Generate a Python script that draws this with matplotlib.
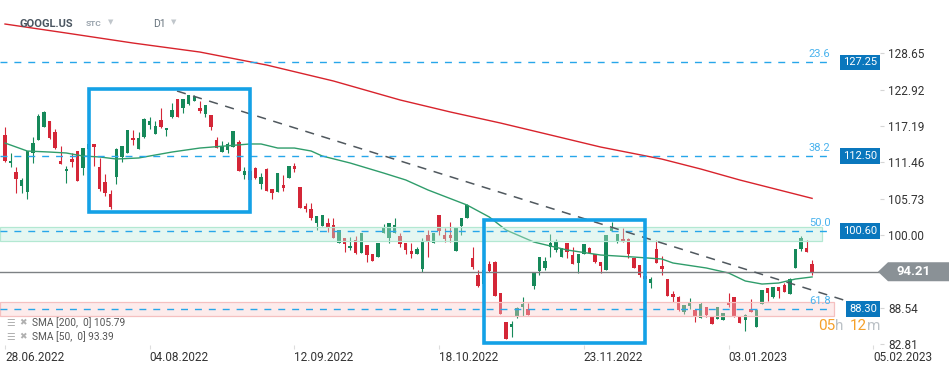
import matplotlib
matplotlib.use("Agg")
import matplotlib.pyplot as plt
import matplotlib.transforms as mtransforms
from matplotlib.colors import to_rgba
from matplotlib.patches import Rectangle, Polygon
from matplotlib.offsetbox import TextArea, HPacker, AnnotationBbox
import numpy as np

plt.rcParams['font.family'] = ['Roboto', 'DejaVu Sans']

# daily candles GOOGL.US, 28.06.2022 -> 25.01.2023
opens = [115.79, 111.37, 109.95, 107.74, 106.79, 112.95, 115.00, 117.05, 117.99, 116.26,
         111.68, 110.11, 112.00, 113.26, 110.58, 113.50, 114.37, 110.74, 108.37, 106.48,
         109.16, 112.32, 112.95, 115.31, 113.58, 115.47, 117.37, 115.95, 118.15, 116.58,
         118.63, 121.47, 120.05, 120.68, 121.15, 120.05, 119.10, 118.94, 115.00, 113.10,
         113.42, 113.89, 114.68, 109.47, 110.11, 110.58, 108.05, 110.42, 107.27, 106.79,
         107.90, 109.00, 110.89, 107.58, 104.58, 104.11, 101.90, 101.43, 101.90, 101.59,
         98.74, 99.53, 97.96, 99.22, 97.17, 98.43, 97.01, 96.53, 100.32, 99.53,
         100.32, 99.85, 98.74, 97.48, 97.01, 94.64, 100.01, 98.74, 103.16, 100.01,
         100.01, 97.48, 101.43, 102.69, 96.38, 93.69, 92.30, 95.43, 95.75, 90.85,
         86.28, 85.49, 87.23, 88.65, 88.33, 91.96, 94.33, 94.80, 98.11, 97.64,
         96.53, 98.74, 96.85, 95.59, 97.01, 97.96, 97.01, 95.75, 94.48, 100.64,
         98.90, 99.38, 99.38, 96.38, 95.27, 93.50, 92.43, 97.80, 95.12, 93.06,
         90.70, 90.22, 87.86, 88.80, 88.17, 86.91, 88.65, 87.07, 86.75, 86.59,
         89.44, 90.22, 87.07, 86.59, 88.33, 85.49, 89.12, 91.64, 90.22, 91.80,
         92.12, 90.70, 94.80, 97.80, 97.96, 95.43]
highs = [117.05, 112.95, 110.74, 109.00, 113.26, 115.47, 119.10, 119.57, 117.99, 116.73,
         114.05, 110.89, 112.95, 113.26, 113.73, 114.80, 114.37, 112.16, 109.63, 107.11,
         113.73, 114.05, 116.58, 116.58, 116.26, 118.47, 118.63, 117.99, 120.05, 116.89,
         120.84, 121.47, 121.47, 122.10, 122.10, 121.15, 120.52, 118.94, 115.47, 114.84,
         114.68, 116.42, 115.00, 110.74, 110.30, 110.74, 109.79, 110.58, 107.27, 109.79,
         109.47, 110.89, 111.37, 107.58, 105.06, 105.06, 103.00, 103.16, 102.69, 102.69,
         100.80, 99.53, 99.69, 99.85, 100.32, 98.43, 97.01, 98.74, 101.74, 101.90,
         102.69, 100.32, 98.74, 98.74, 98.11, 99.53, 100.80, 100.32, 103.16, 101.11,
         102.06, 101.11, 102.69, 104.90, 98.11, 94.48, 95.00, 95.90, 95.90, 90.85,
         86.28, 86.44, 88.65, 90.22, 89.28, 94.17, 96.53, 96.53, 100.16, 99.38,
         97.96, 98.74, 98.11, 97.01, 98.59, 98.11, 97.01, 95.75, 100.01, 102.06,
         100.16, 101.11, 99.53, 96.38, 95.27, 94.00, 93.38, 99.22, 96.69, 93.06,
         91.17, 90.38, 88.96, 90.07, 88.17, 89.44, 88.65, 87.07, 88.65, 87.70,
         90.85, 90.22, 87.07, 87.54, 89.91, 88.17, 91.33, 91.64, 91.80, 91.80,
         92.43, 93.22, 97.80, 99.85, 99.22, 96.06]
lows = [111.60, 110.74, 106.63, 106.63, 105.69, 111.37, 115.00, 117.05, 115.16, 113.58,
        111.21, 108.21, 110.74, 108.53, 109.47, 112.90, 110.89, 106.95, 106.16, 104.11,
        108.05, 111.53, 112.95, 114.21, 113.58, 115.31, 116.73, 115.95, 116.89, 115.63,
        118.47, 118.63, 119.26, 120.52, 121.15, 119.26, 118.63, 116.58, 113.73, 113.10,
        112.95, 113.89, 110.11, 108.84, 108.50, 108.84, 107.27, 106.95, 105.69, 106.79,
        106.95, 109.00, 109.95, 104.27, 103.64, 102.37, 100.80, 101.43, 100.48, 99.53,
        98.74, 97.32, 97.64, 97.01, 97.17, 95.75, 95.90, 96.53, 100.32, 98.74,
        100.32, 98.11, 97.01, 96.38, 97.01, 94.17, 96.53, 98.74, 100.01, 98.90,
        98.90, 97.48, 100.01, 102.69, 94.64, 91.80, 92.00, 94.17, 90.38, 87.54,
        83.60, 83.91, 86.91, 87.23, 87.38, 91.49, 93.69, 94.48, 96.53, 97.32,
        96.53, 96.38, 95.43, 94.01, 97.01, 97.17, 95.59, 94.01, 94.48, 100.64,
        98.74, 98.90, 96.38, 94.80, 93.38, 92.60, 91.64, 95.59, 93.69, 90.38,
        89.44, 88.02, 87.54, 88.33, 86.28, 86.91, 87.07, 85.96, 86.75, 86.59,
        88.65, 87.07, 86.12, 84.86, 87.86, 85.49, 89.12, 89.59, 90.07, 90.07,
        91.01, 90.70, 94.80, 97.48, 97.32, 93.69]
closes = [111.68, 111.68, 108.84, 108.69, 113.26, 114.52, 118.78, 119.42, 115.31, 113.73,
          111.21, 110.42, 111.53, 108.53, 113.73, 114.30, 113.89, 107.27, 106.63, 104.42,
          113.58, 114.05, 116.58, 115.00, 115.31, 118.31, 117.99, 117.21, 117.05, 116.89,
          119.73, 118.63, 121.47, 122.10, 121.78, 119.57, 120.52, 117.05, 113.73, 114.05,
          114.37, 116.42, 110.11, 110.11, 108.69, 109.00, 109.16, 106.95, 106.63, 109.79,
          107.42, 110.89, 110.42, 104.27, 104.11, 102.69, 103.00, 103.16, 101.27, 99.53,
          100.80, 98.59, 98.27, 97.17, 100.32, 96.85, 95.90, 98.74, 101.11, 101.90,
          101.59, 98.59, 97.64, 97.01, 97.80, 98.90, 98.90, 100.32, 100.64, 99.38,
          99.53, 101.11, 102.69, 104.74, 94.96, 91.96, 94.50, 94.33, 90.38, 87.54,
          83.60, 85.96, 88.49, 89.12, 87.38, 94.17, 96.53, 95.90, 98.74, 98.90,
          97.96, 97.32, 95.43, 97.01, 98.59, 97.17, 95.75, 95.12, 100.01, 101.11,
          100.16, 98.90, 97.01, 94.80, 93.69, 93.00, 93.06, 95.59, 94.64, 90.38,
          90.22, 88.17, 88.96, 89.44, 87.07, 89.12, 87.38, 85.96, 88.65, 87.70,
          88.96, 87.07, 86.12, 87.38, 87.86, 88.17, 91.33, 90.85, 91.80, 91.17,
          91.01, 93.06, 97.80, 99.53, 97.32, 94.21]

# moving averages, sampled along the drawn lines (candle index, value)
sma200_idx = [0, 11, 23, 35, 47, 53, 59, 71, 80, 89, 98, 107, 118, 125, 132, 145]
sma200_val = [133.30, 131.88, 130.30, 128.88, 126.83, 125.57, 124.31, 121.31, 119.42,
              117.68, 115.79, 113.89, 111.99, 110.42, 108.69, 105.79]
sma50_idx = [0, 4, 8, 11, 14, 17, 20, 24, 30, 35, 44, 46, 49, 52, 55, 57, 62, 68, 72,
             76, 83, 87, 90, 95, 101, 107, 113, 118, 120, 126, 130, 133, 136, 139, 142, 145]
sma50_val = [114.52, 113.26, 113.10, 112.95, 112.47, 112.32, 112.00, 112.16, 113.10,
             113.73, 114.37, 114.37, 113.73, 113.73, 113.26, 112.47, 111.37, 109.79,
             108.69, 107.11, 104.74, 102.85, 100.80, 98.90, 97.64, 96.85, 96.53, 96.22,
             95.59, 94.80, 94.01, 92.75, 92.27, 92.43, 93.06, 93.39]

# fibonacci levels
fib_labels = ['23.6', '38.2', '50.0', '61.8']
fib_prices = [127.25, 112.50, 100.60, 88.30]

# support / resistance zones (top, bottom, last index)
green_zone = (101.30, 99.00, 146.8)
red_zone = (89.43, 87.23, 148.9)

# trend line (index, price)
trend_idx = [30.9, 151.8]
trend_val = [122.73, 89.44]

# highlighted boxes (start idx, end idx, low, high)
boxes = [(15.1, 44.1, 103.7, 123.0), (86.1, 114.9, 82.96, 102.3)]

date_ticks = [0, 26, 52, 78, 104, 130, 156]
date_labels = ['28.06.2022', '04.08.2022', '12.09.2022', '18.10.2022',
               '23.11.2022', '03.01.2023', '05.02.2023']
price_ticks = [82.81, 88.54, 100.00, 105.73, 111.46, 117.19, 122.92, 128.65]

GREEN = '#16895a'
RED = '#d42637'
FIB_BLUE = '#27a6ea'
BOX_BLUE = '#14a1e6'
TAG_BLUE = '#0a77bd'

fig = plt.figure(figsize=(9.49, 3.70), dpi=100)
ax = fig.add_axes([0, 25 / 370, 880 / 949, 345 / 370])
ax.set_xlim(-0.9, 157.2)
ax.set_ylim(82.65, 137.09)

# candles
o = np.array(opens); h = np.array(highs); l = np.array(lows); c = np.array(closes)
x = np.arange(len(c))
cols = np.where(c >= o, GREEN, RED)
ax.vlines(x, l, h, colors=cols, linewidth=0.8, zorder=2)
ax.bar(x, np.maximum(np.abs(c - o), 0.2), bottom=np.minimum(o, c), width=0.62,
       color=cols, linewidth=0, zorder=2)

# SMAs
ax.plot(sma200_idx, sma200_val, color='#d8232c', lw=1.0, zorder=3)
ax.plot(sma50_idx, sma50_val, color='#2f9d6b', lw=1.0, zorder=3)

# zones
x0 = ax.get_xlim()[0]
for (top, bot, end), fc, ec in [(green_zone, '#c0ebdc', '#b3e8d2'),
                                (red_zone, '#facdcd', '#f5c0c0')]:
    ax.add_patch(Rectangle((x0, bot), end - x0, top - bot, facecolor=to_rgba(fc, 0.4),
                           edgecolor=ec, lw=0.9, zorder=4))

# fib lines
ax.hlines(fib_prices, x0, 147.7, colors=FIB_BLUE, linestyles=(0, (5, 5)), lw=1.0, zorder=5)
blend = mtransforms.blended_transform_factory(ax.transAxes, ax.transData)
for lab, p in zip(fib_labels, fib_prices):
    ax.text(148.3, p + 0.8, lab, ha='right', va='baseline', fontsize=8, color='#4ab3ee', zorder=6)
    ax.text(0.9966, p, f'{p:.2f}', transform=blend,
            ha='right', va='center', fontsize=8, color='white', zorder=7, clip_on=False,
            bbox=dict(boxstyle='square,pad=0.25', fc=TAG_BLUE, ec='none'))

# trend line
ax.plot(trend_idx, trend_val, color='#50585e', lw=1.1, ls=(0, (6, 5)), zorder=5)

# boxes
for x_a, x_b, lo, hi in boxes:
    ax.add_patch(Rectangle((x_a, lo), x_b - x_a, hi - lo, fill=False, edgecolor=BOX_BLUE,
                           lw=2.6, zorder=6, clip_on=False))

# last price line and tag
last = closes[-1]
ax.axhline(last, color='#7d8184', lw=1.0, zorder=3)
ax.add_patch(Polygon([(0.9977, last), (1.0091, last + 1.5), (1.0784, last + 1.5),
                      (1.0784, last - 1.5), (1.0091, last - 1.5)], closed=True,
                     facecolor='#8a9196', edgecolor='none', transform=blend, clip_on=False, zorder=7))
ax.text(1.038, last, f'{last:.2f}', transform=blend, ha='center', va='center',
        fontsize=9.5, fontweight='bold', color='white', zorder=8, clip_on=False)

# countdown
parts = []
for grp in [[('05', '#f5a02a'), ('h', '#bcc2c7')], [('12', '#f5a02a'), ('m', '#bcc2c7')]]:
    parts.append(HPacker(children=[TextArea(t, textprops=dict(color=col, fontsize=11))
                                   for t, col in grp], sep=0, pad=0))
ab = AnnotationBbox(HPacker(children=parts, sep=4, pad=0), (1.0, 0.055), xycoords='axes fraction',
                    box_alignment=(1, 0.5), frameon=False, pad=0)
ax.add_artist(ab)

# axes styling
for s in ax.spines.values():
    s.set_visible(False)
ax.yaxis.tick_right()
ax.set_yticks(price_ticks)
ax.set_yticklabels([f'{v:.2f}' for v in price_ticks])
ax.tick_params(axis='y', length=3, color='#d5d5d5', labelcolor='#333333', labelsize=8.5, pad=3)
ax.set_xticks(date_ticks)
ax.set_xticklabels(date_labels)
for lbl in ax.get_xticklabels():
    lbl.set_ha('left')
ax.tick_params(axis='x', length=3, color='#dddddd', labelcolor='#333333', labelsize=8.5, pad=1)

# header
fig.text(20 / 949, 1 - 24 / 370, 'GOOGL.US', fontsize=8, fontweight='bold', color='#4a5560', va='center')
fig.text(86 / 949, 1 - 24 / 370, 'STC', fontsize=6, fontweight='bold', color='#9aa4ad', va='center')
fig.text(108 / 949, 1 - 23 / 370, '▼', fontsize=5, color='#c0c6cb', va='center')
fig.text(153 / 949, 1 - 24 / 370, 'D1', fontsize=7.5, color='#66727c', va='center')
fig.text(171 / 949, 1 - 23 / 370, '▼', fontsize=5, color='#c0c6cb', va='center')

# legend
for yy, txt in [(323, f'SMA [200,  0] {sma200_val[-1]:.2f}'), (337, f'SMA [50,  0] {sma50_val[-1]:.2f}')]:
    fig.text(6 / 949, 1 - yy / 370, '☰', fontsize=7, color='#b0b0b0', va='center')
    fig.text(19 / 949, 1 - yy / 370, '✖', fontsize=6.5, color='#b0b0b0', va='center')
    fig.text(32 / 949, 1 - yy / 370, txt, fontsize=7.3, color='#555555', va='center')

fig.savefig('out.png', dpi=100)
